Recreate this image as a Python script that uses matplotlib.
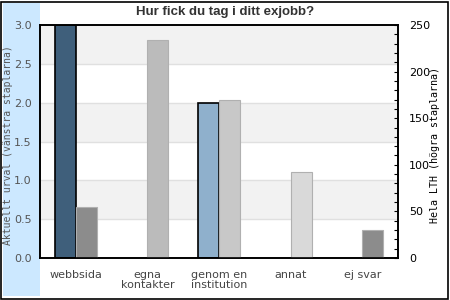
import numpy as np
import matplotlib
matplotlib.use('Agg')
from matplotlib import pyplot as plt
from matplotlib.patches import Rectangle

# data
categories = ['webbsida', 'egna\nkontakter', 'genom en\ninstitution', 'annat', 'ej svar']
left_values = [3.0, 0, 2.0, 0, 0]        # aktuellt urval
right_values = [55, 234, 170, 92, 30]    # hela LTH
left_colors = ['#3f5f7b', '#3f5f7b', '#8fb0cc', '#8fb0cc', '#8fb0cc']
right_colors = ['#8c8c8c', '#bbbbbb', '#c8c8c8', '#d9d9d9', '#8c8c8c']

fig = plt.figure(figsize=(4.5, 3), dpi=100)

# blue panel on the left and outer border
fig.patches.append(Rectangle((3/450, 4/300), 37/450, 293/300, transform=fig.transFigure,
                             facecolor='#cce8ff', edgecolor='none', zorder=-5))
fig.patches.append(Rectangle((1/450, 1/300), 447/450, 297/300, transform=fig.transFigure,
                             facecolor='none', edgecolor='black', lw=1.2, zorder=-4))

ax = fig.add_axes([40/450, 42/300, 358/450, 233/300])
ax.set_facecolor('white')
ax.set_xlim(-0.5, 4.5)
ax.set_ylim(0, 3)

# alternating bands + grid lines
for lo in [0.5, 1.5, 2.5]:
    ax.axhspan(lo, lo + 0.5, color='#f2f2f2', zorder=0, lw=0)
for y in np.arange(0.5, 3.0, 0.5):
    ax.axhline(y, color='#e0e0e0', lw=1, zorder=0.5)

x = np.arange(len(categories))
w = 0.293
for i in range(len(categories)):
    if left_values[i] > 0:
        ax.bar(x[i] - w/2, left_values[i], w, color=left_colors[i], edgecolor='black', lw=1.2, zorder=2)

ax.set_yticks(np.arange(0, 3.01, 0.5))
ax.set_yticklabels(['%.1f' % v for v in np.arange(0, 3.01, 0.5)])
ax.tick_params(axis='y', length=0, pad=6, labelsize=8, labelcolor='#555555')
ax.set_xticks(x)
ax.set_xticklabels(categories, linespacing=0.95)
ax.tick_params(axis='x', length=0, pad=9, labelsize=8, labelcolor='#444444')
for s in ax.spines.values():
    s.set_linewidth(1.2)

ax2 = ax.twinx()
ax2.set_ylim(0, 250)
ax2.patch.set_visible(False)
for i in range(len(categories)):
    ax2.bar(x[i] + w/2, right_values[i], w, color=right_colors[i], edgecolor='#b0b0b0', lw=0.8, zorder=2)
ax2.set_yticks(np.arange(0, 251, 50))
ax2.set_yticks(np.arange(0, 251, 10), minor=True)
ax2.tick_params(axis='y', which='both', direction='in', length=3, width=0.8, pad=8, labelsize=8)
for s in ax2.spines.values():
    s.set_linewidth(1.2)

fig.text(8/450, 1 - 145/300, 'Aktuellt urval (vänstra staplarna)', rotation=90, ha='center', va='center',
         family='DejaVu Sans Mono', fontsize=7, color='#555555')
fig.text(435/450, 1 - 145/300, 'Hela LTH (högra staplarna)', rotation=90, ha='center', va='center',
         family='DejaVu Sans Mono', fontsize=7.2, color='black')
fig.text(0.5, 1 - 12/300, 'Hur fick du tag i ditt exjobb?', ha='center', va='center',
         family='Liberation Sans', weight='bold', fontsize=9.5, color='#333333')

fig.savefig('out.png', dpi=100)
